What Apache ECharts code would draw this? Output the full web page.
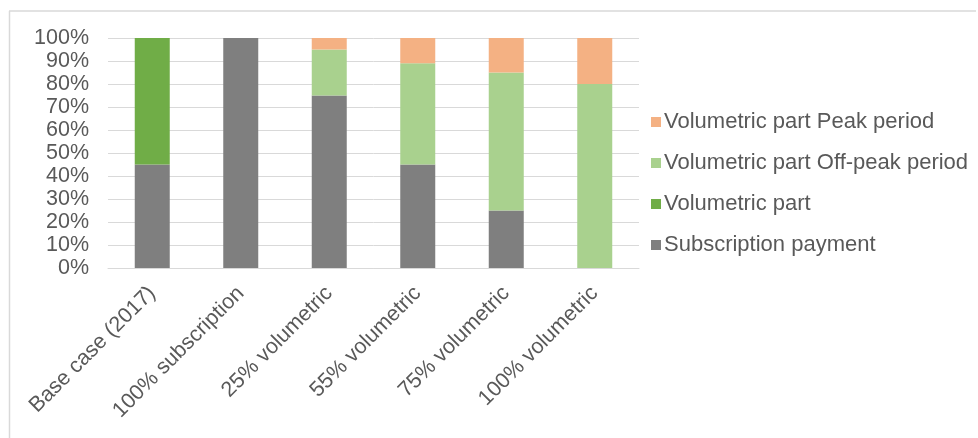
<!DOCTYPE html>
<html>
<head>
<meta charset="utf-8">
<script src="https://cdn.jsdelivr.net/npm/echarts@6/dist/echarts.min.js"></script>
<style>
html,body{margin:0;padding:0;background:#fff;}
#chart{width:978px;height:438px;}
</style>
</head>
<body>
<div id="chart"></div>
<script>
const categories = ['Base case (2017)', '100% subscription', '25% volumetric', '55% volumetric', '75% volumetric', '100% volumetric'];
const subscription = [45, 100, 75, 45, 25, null];
const volumetric = [55, null, null, null, null, null];
const offPeak = [null, null, 20, 44, 60, 80];
const peak = [null, null, 5, 11, 15, 20];
const yTicks = [0, 10, 20, 30, 40, 50, 60, 70, 80, 90, 100];

const FONT = '"Liberation Sans", Arial, sans-serif';
const TXT = '#595959';
const chart = echarts.init(document.getElementById('chart'), null, {renderer: 'canvas'});

function mk(name, data, color) {
  return {
    name: name, type: 'bar', stack: 'total', data: data, barWidth: 35,
    itemStyle: {color: color}, emphasis: {disabled: true}
  };
}

chart.setOption({
  animation: false,
  backgroundColor: '#ffffff',
  textStyle: {fontFamily: FONT, color: TXT},
  grid: {left: 108, right: 339, top: 38, bottom: 170, containLabel: false},
  legend: {
    orient: 'vertical', left: 646, top: 106,
    itemWidth: 10, itemHeight: 10, itemGap: 19,
    icon: 'rect',
    textStyle: {fontFamily: FONT, fontSize: 22, color: TXT, padding: [0, 0, 0, -2]},
    data: ['Volumetric part Peak period', 'Volumetric part Off-peak period', 'Volumetric part', 'Subscription payment']
  },
  xAxis: {
    type: 'category', data: categories,
    axisLine: {show: true, lineStyle: {color: '#d9d9d9', width: 1}},
    axisTick: {show: false},
    axisLabel: {interval: 0, rotate: 45, margin: 22, fontFamily: FONT, fontSize: 21.5, color: TXT}
  },
  yAxis: {
    type: 'value', min: yTicks[0], max: yTicks[yTicks.length - 1], interval: 10,
    axisLine: {show: false}, axisTick: {show: false},
    splitLine: {lineStyle: {color: '#d9d9d9', width: 1}},
    axisLabel: {margin: 19, fontFamily: FONT, fontSize: 21.5, color: TXT, formatter: '{value}%'}
  },
  graphic: [
    {type: 'line', shape: {x1: 9, y1: 11, x2: 976, y2: 11}, style: {stroke: '#d9d9d9', lineWidth: 1.5}, silent: true},
    {type: 'line', shape: {x1: 9.5, y1: 11, x2: 9.5, y2: 438}, style: {stroke: '#d9d9d9', lineWidth: 1.5}, silent: true}
  ],
  series: [
    mk('Subscription payment', subscription, '#7f7f7f'),
    mk('Volumetric part', volumetric, '#70ad47'),
    mk('Volumetric part Off-peak period', offPeak, '#a9d18e'),
    mk('Volumetric part Peak period', peak, '#f4b183')
  ]
});
</script>
</body>
</html>
